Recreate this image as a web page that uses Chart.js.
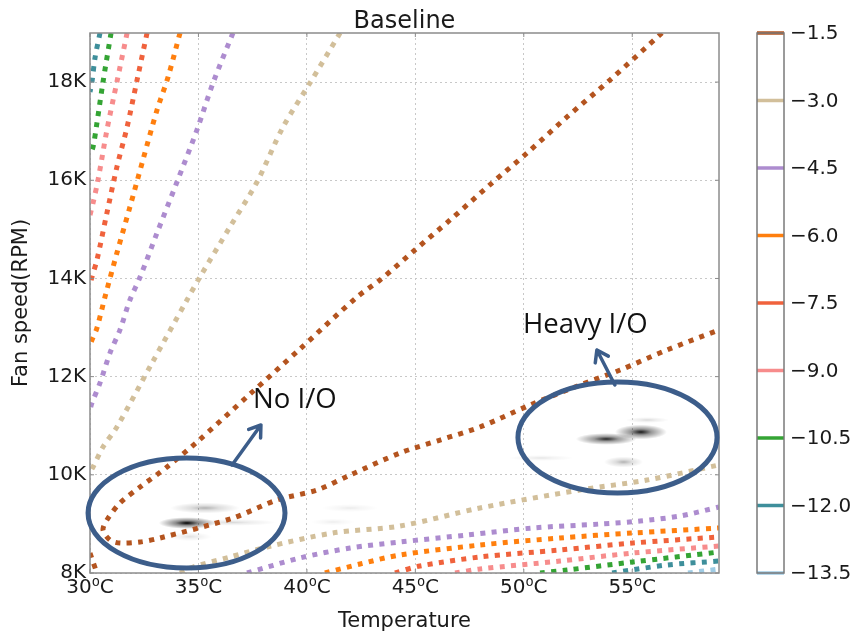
<!DOCTYPE html>
<html>
<head>
<meta charset="utf-8">
<script src="https://cdn.jsdelivr.net/npm/chart.js@4.4.1/dist/chart.umd.min.js"></script>
<style>
  body { margin: 0; background: #fff; }
  canvas { display: block; }
</style>
</head>
<body>
<canvas id="chart" width="854" height="634"></canvas>
<script>
'use strict';

// axes
const xTicks = [30, 35, 40, 45, 50, 55];
const yTicks = [8000, 10000, 12000, 14000, 16000, 18000];

// contour levels and their colours (colorbar order, top to bottom)
const levels = [-1.5, -3.0, -4.5, -6.0, -7.5, -9.0, -10.5, -12.0, -13.5];
const levelColors = ['#b4541f', '#d2bf9a', '#ad8ccf', '#ff7f0e', '#f0623c', '#f78c8c', '#34a434', '#3e8f9b', '#9fcbe4'];

// contour paths, [temperature, rpm]
const c15 = [[56.37,19000],[53.97,18042],[51.99,17289],[50.15,16555],[48.53,15944],[46.60,15191],[44.98,14580],
  [43.37,13968],[42.31,13622],[39.68,12563],[37.38,11646],[34.93,10668],[33.55,10159],[32.31,9752],[31.38,9426],
  [30.78,9080],[30.60,8876],[30.92,8672],[31.38,8611],[32.31,8631],[33.23,8713],[36.59,9120],[38.62,9487],
  [40.47,9691],[41.99,9996],[44.29,10444],[46.14,10709],[47.98,10974],[50.29,11422],[52.59,11830],[54.44,12135],
  [56.60,12543],[59.00,12950]];
const c15corner = [[30.00,8407],[30.14,8224],[30.32,8000]];
const c30up = [[41.53,19000],[40.14,17981],[38.90,17085],[37.70,15965],[36.45,15048],[35.07,14030],[34.47,13561],
  [32.86,12278],[31.24,10974],[30.60,10567],[30.14,10159],[30.00,10057]];
const c30low = [[34.15,8000],[34.75,8122],[36.45,8326],[38.16,8530],[41.20,8815],[44.29,8957],[47.98,9324],
  [52.59,9691],[55.68,9894],[59.00,10200]];
const c45up = [[36.59,19000],[35.67,17981],[34.93,17024],[34.01,15965],[33.09,14926],[32.31,14030],[31.84,13561],
  [31.38,12950],[30.92,12481],[30.46,11870],[30.09,11463],[30.00,11320]];
const c45low = [[37.24,8000],[39.68,8306],[41.99,8509],[44.29,8631],[47.38,8774],[50.42,8917],[53.51,8998],
  [55.36,9059],[57.20,9161],[59.00,9344]];
const c60up = [[34.15,19000],[33.60,18104],[33.09,17431],[32.44,16413],[31.84,15455],[31.24,14518],[30.69,13622],
  [30.32,12991],[30.09,12746],[30.00,12644]];
const c60low = [[40.83,8000],[42.45,8183],[44.29,8367],[47.98,8570],[51.67,8713],[55.03,8815],[59.00,8917]];
const c75up = [[32.63,19000],[32.17,18042],[31.71,17085],[31.24,16270],[30.78,15333],[30.32,14376],[30.09,14030],[30.00,13867]];
const c75low = [[44.06,8000],[45.21,8143],[47.98,8326],[51.67,8469],[55.03,8611],[59.00,8733]];
const c90up = [[31.71,19000],[31.24,18002],[30.78,17024],[30.37,16005],[30.14,15537],[30.00,15292]];
const c90low = [[46.83,8000],[47.98,8081],[51.67,8244],[55.03,8407],[59.00,8550]];
const c105up = [[30.97,19000],[30.60,18002],[30.32,17167],[30.14,16678],[30.00,16515]];
const c105low = [[50.75,8000],[51.99,8061],[55.03,8224],[59.00,8428]];
const c120up = [[30.46,19000],[30.23,18491],[30.09,18002],[30.00,17798]];
const c120low = [[54.07,8000],[56.60,8163],[59.00,8244]];
const c135low = [[57.57,8000],[59.00,8081]];

const contours = [
  [-1.5, c15], [-1.5, c15corner], [-3.0, c30up], [-3.0, c30low], [-4.5, c45up], [-4.5, c45low],
  [-6.0, c60up], [-6.0, c60low], [-7.5, c75up], [-7.5, c75low], [-9.0, c90up], [-9.0, c90low],
  [-10.5, c105up], [-10.5, c105low], [-12.0, c120up], [-12.0, c120low], [-13.5, c135low]
];

// density spots: [temperature, rpm, spread T, spread rpm, darkness]
const blobs = [
  [34.47, 9018, 1.3, 120, 1.0], [35.3, 9324, 1.6, 110, 0.3], [36.6, 9030, 2.0, 70, 0.15],
  [34.6, 8740, 1.0, 90, 0.12], [42.0, 9324, 1.3, 80, 0.08], [41.2, 9039, 1.0, 70, 0.07],
  [53.8, 10730, 1.4, 120, 0.85], [55.4, 10872, 1.2, 150, 0.9], [54.6, 10261, 0.9, 110, 0.3],
  [55.7, 11117, 1.0, 60, 0.15], [50.8, 10343, 1.5, 60, 0.1]
];

// annotations (data units)
const rings = [
  { cx: 34.45, cy: 9222, rx: 4.54, ry: 1120 },
  { cx: 54.32, cy: 10760, rx: 4.59, ry: 1131 }
];
const arrows = [
  { from: [36.55, 10200], to: [37.88, 11015] },
  { from: [54.20, 11830], to: [53.37, 12543] }
];
const notes = [
  { text: 'No I/O', at: [37.52, 11361] },
  { text: 'Heavy I/O', at: [49.96, 12889] }
];

const FRAME = '#8c8c8c';
const BLUE = '#3c5d8a';

function colorFor(level) {
  return levelColors[levels.indexOf(level)];
}

const datasets = contours.map(([level, pts]) => ({
  data: pts.map(p => ({ x: p[0], y: p[1] })),
  showLine: true,
  borderColor: colorFor(level),
  borderWidth: 5,
  borderDash: [5, 6.3],
  borderCapStyle: 'butt',
  pointRadius: 0,
  tension: 0.3,
  clip: 0
}));

const decorations = {
  id: 'decorations',
  beforeDatasetsDraw(chart) {
    const { ctx, chartArea: a, scales: { x, y } } = chart;
    ctx.save();
    ctx.beginPath();
    ctx.rect(a.left, a.top, a.width, a.height);
    ctx.clip();
    blobs.forEach(b => {
      const px = x.getPixelForValue(b[0]), py = y.getPixelForValue(b[1]);
      const sx = Math.abs(x.getPixelForValue(b[0] + b[2]) - px);
      const sy = Math.abs(y.getPixelForValue(b[1] + b[3]) - py);
      ctx.save();
      ctx.translate(px, py);
      ctx.scale(sx, sy);
      const g = ctx.createRadialGradient(0, 0, 0, 0, 0, 1);
      g.addColorStop(0, `rgba(0,0,0,${b[4]})`);
      g.addColorStop(0.4, `rgba(0,0,0,${b[4] * 0.45})`);
      g.addColorStop(1, 'rgba(0,0,0,0)');
      ctx.fillStyle = g;
      ctx.beginPath();
      ctx.arc(0, 0, 1, 0, Math.PI * 2);
      ctx.fill();
      ctx.restore();
    });
    ctx.restore();
  },
  afterDraw(chart) {
    const { ctx, chartArea: a, scales: { x, y, cb } } = chart;
    ctx.save();

    // frame + inward ticks
    ctx.strokeStyle = FRAME;
    ctx.lineWidth = 1.5;
    ctx.strokeRect(a.left, a.top, a.width, a.height);
    ctx.lineWidth = 1;
    ctx.beginPath();
    xTicks.forEach(v => {
      const px = x.getPixelForValue(v);
      ctx.moveTo(px, a.bottom); ctx.lineTo(px, a.bottom - 4);
      ctx.moveTo(px, a.top); ctx.lineTo(px, a.top + 4);
    });
    yTicks.forEach(v => {
      const py = y.getPixelForValue(v);
      ctx.moveTo(a.left, py); ctx.lineTo(a.left + 4, py);
      ctx.moveTo(a.right, py); ctx.lineTo(a.right - 4, py);
    });
    ctx.stroke();

    // title
    ctx.fillStyle = '#1a1a1a';
    ctx.font = '24px "DejaVu Sans"';
    ctx.textAlign = 'center';
    ctx.textBaseline = 'alphabetic';
    ctx.fillText('Baseline', (a.left + a.right) / 2, 28);

    // colorbar
    const bx = a.right + 38, bw = 27;
    const top = cb.getPixelForValue(levels[0]), bot = cb.getPixelForValue(levels[levels.length - 1]);
    levels.forEach((lv, i) => {
      const py = cb.getPixelForValue(lv);
      ctx.strokeStyle = levelColors[i];
      ctx.lineWidth = 3.5;
      ctx.beginPath();
      ctx.moveTo(bx, py); ctx.lineTo(bx + bw, py);
      ctx.stroke();
    });
    ctx.strokeStyle = '#7a7a7a';
    ctx.lineWidth = 1.5;
    ctx.strokeRect(bx, top, bw, bot - top);
    ctx.fillStyle = '#1a1a1a';
    ctx.font = '20px "DejaVu Sans"';
    ctx.textAlign = 'left';
    ctx.textBaseline = 'middle';
    levels.forEach(lv => {
      ctx.fillText('\u2212' + Math.abs(lv).toFixed(1), bx + bw + 6, cb.getPixelForValue(lv) + 1);
    });

    // annotation rings and arrows
    ctx.strokeStyle = BLUE;
    ctx.lineWidth = 5;
    rings.forEach(r => {
      const cx = x.getPixelForValue(r.cx), cy = y.getPixelForValue(r.cy);
      const rx = Math.abs(x.getPixelForValue(r.cx + r.rx) - cx);
      const ry = Math.abs(y.getPixelForValue(r.cy + r.ry) - cy);
      ctx.beginPath();
      ctx.ellipse(cx, cy, rx, ry, 0, 0, Math.PI * 2);
      ctx.stroke();
    });
    ctx.lineWidth = 3.5;
    ctx.lineCap = 'round';
    ctx.lineJoin = 'round';
    arrows.forEach(ar => {
      const x0 = x.getPixelForValue(ar.from[0]), y0 = y.getPixelForValue(ar.from[1]);
      const x1 = x.getPixelForValue(ar.to[0]), y1 = y.getPixelForValue(ar.to[1]);
      const ang = Math.atan2(y1 - y0, x1 - x0);
      const len = 13, spread = 0.6;
      ctx.beginPath();
      ctx.moveTo(x0, y0); ctx.lineTo(x1, y1);
      ctx.moveTo(x1 - len * Math.cos(ang - spread), y1 - len * Math.sin(ang - spread));
      ctx.lineTo(x1, y1);
      ctx.lineTo(x1 - len * Math.cos(ang + spread), y1 - len * Math.sin(ang + spread));
      ctx.stroke();
    });

    ctx.fillStyle = '#111';
    ctx.font = '27.5px "Open Sans"';
    ctx.textAlign = 'left';
    ctx.textBaseline = 'alphabetic';
    notes.forEach(n => {
      ctx.fillText(n.text, x.getPixelForValue(n.at[0]), y.getPixelForValue(n.at[1]));
    });
    ctx.restore();
  }
};

Chart.defaults.font.family = '"DejaVu Sans"';
Chart.defaults.color = '#1a1a1a';

new Chart(document.getElementById('chart'), {
  type: 'scatter',
  data: { datasets },
  options: {
    responsive: false,
    animation: false,
    devicePixelRatio: 1,
    layout: { padding: { left: 0, right: 135, top: 33, bottom: 0 } },
    plugins: { legend: { display: false }, tooltip: { enabled: false } },
    scales: {
      x: {
        type: 'linear', min: 30, max: 59,
        afterFit: s => { s.height = 61; },
        afterBuildTicks: s => { s.ticks = xTicks.map(v => ({ value: v })); },
        ticks: { font: { size: 20 }, padding: 3, maxRotation: 0, callback: v => v + '\u2070C' },
        grid: { color: '#c8c8c8', lineWidth: 1, drawTicks: false },
        border: { display: false, dash: [2, 3] },
        title: { display: true, text: 'Temperature', font: { size: 21 }, padding: { top: 0, bottom: 0 } }
      },
      y: {
        type: 'linear', min: 8000, max: 19000,
        afterFit: s => { s.width = 90; },
        afterBuildTicks: s => { s.ticks = yTicks.map(v => ({ value: v })); },
        ticks: { font: { size: 20 }, padding: 4, callback: v => (v / 1000) + 'K' },
        grid: { color: '#c8c8c8', lineWidth: 1, drawTicks: false },
        border: { display: false, dash: [2, 3] },
        title: { display: true, text: 'Fan speed(RPM)', font: { size: 21 }, padding: { top: 9, bottom: 0 } }
      },
      cb: {
        type: 'linear', position: 'right', display: false,
        min: levels[levels.length - 1], max: levels[0]
      }
    }
  },
  plugins: [decorations]
});
</script>
</body>
</html>
